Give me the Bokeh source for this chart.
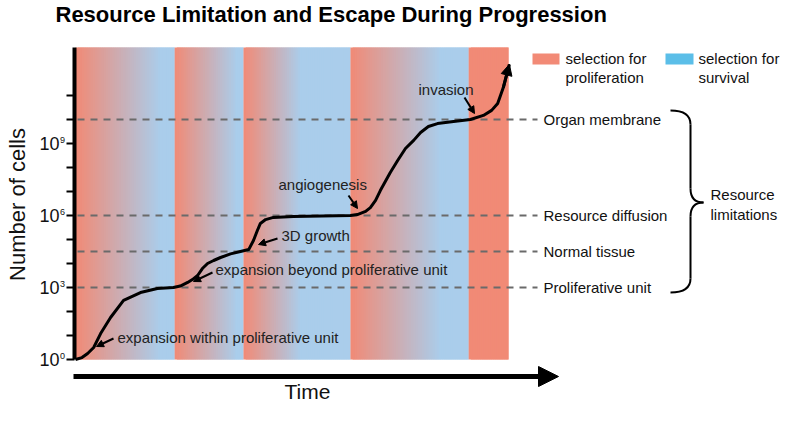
import math
from bokeh.plotting import figure
from bokeh.models import Range1d, Arrow, NormalHead
from bokeh.core.properties import value
from bokeh.embed import file_html
from bokeh.resources import INLINE

# ---------------- data (time units 0..100, values as log10 of cell count) ----------------
curve_t = [0, 1.5, 2.8, 4.2, 5.8, 8.1, 11.1, 15.0, 18.9, 22.6,
           24.2, 25.9, 27.0, 28.2, 29.3, 30.5, 31.9, 33.5, 35.8, 38.1,
           40.0, 41.1, 42.0, 42.7, 43.9, 45.7, 50.3, 63.5, 65.1, 67.0,
           68.1, 69.3, 70.4, 72.7, 74.4, 76.2, 78.1, 79.7, 81.5, 83.6,
           87.3, 91.2, 94.2, 96.1, 97.5, 98.8, 100.2]
curve_log = [0, 0.08, 0.25, 0.5, 1.08, 1.75, 2.46, 2.79, 2.96, 3.0,
             3.06, 3.21, 3.33, 3.5, 3.79, 4.0, 4.125, 4.25, 4.4, 4.5,
             4.58, 4.96, 5.375, 5.67, 5.83, 5.92, 5.96, 6.0, 6.04, 6.17,
             6.33, 6.63, 7.04, 7.79, 8.29, 8.79, 9.13, 9.46, 9.71, 9.83,
             9.92, 10.0, 10.17, 10.38, 10.67, 11.33, 12.3]

band_start = [0, 22.9, 38.8, 63.5, 90.8]
band_blue_from = [19.6, 37.2, 52.0, 84.3, None]   # None: solid proliferation band
band_end = [22.9, 38.8, 63.5, 90.8, 100]

levels = [10, 6, 4.5, 3]
level_labels = ["Organ membrane", "Resource diffusion", "Normal tissue", "Proliferative unit"]

tick_values = list(range(0, 12))
tick_label_values = [0, 3, 6, 9]
tick_label_exps = ["0", "3", "6", "9"]

annot_texts = ["expansion within proliferative unit", "expansion beyond proliferative unit",
               "3D growth", "angiogenesis", "invasion"]

legend_line1 = ["selection for", "selection for"]
legend_line2 = ["proliferation", "survival"]

title_text = "Resource Limitation and Escape During Progression"
y_label = "Number of cells"
x_label = "Time"
brace_label = ["Resource", "limitations"]

# ---------------- layout (picture pixel geometry) ----------------
W, H = 784, 405
X0, PXT = 75.0, 4.33      # picture x of t=0, pixels per time unit
Y0, PXD = 359.0, 24.0     # picture y of log=0, pixels per decade

def tx(px):
    return (px - X0) / PXT

def ly(py):
    return (Y0 - py) / PXD

RED = (241, 138, 118)
BLUE = (170, 205, 235)
LEG_RED = "#F28A76"
LEG_BLUE = "#5BBEE8"
FONT = value("Liberation Sans")

def hexcol(c):
    return "#%02x%02x%02x" % tuple(int(round(v)) for v in c)

p = figure(width=W, height=H, output_backend="svg", toolbar_location=None,
           x_axis_type=None, y_axis_type=None, min_border=0,
           x_range=Range1d(tx(0), tx(W)), y_range=Range1d(ly(H), ly(0)))
p.outline_line_color = None
p.background_fill_color = "white"
p.border_fill_color = "white"

# ---------------- background bands (overlapping gradient strips) ----------------
STEP = 0.5
lefts, rights, cols = [], [], []
for s, b, e in zip(band_start, band_blue_from, band_end):
    n = int(math.ceil((e - s) / STEP - 1e-9))
    for i in range(n):
        l = s + i * STEP
        r = min(e, l + 2 * STEP)
        if b is None:
            c = RED
        else:
            f = min(1.0, max(0.0, (l + STEP / 2 - s) / (b - s)))
            c = tuple(RED[k] + (BLUE[k] - RED[k]) * f for k in range(3))
        lefts.append(l)
        rights.append(r)
        cols.append(hexcol(c))
p.quad(left=lefts, right=rights, bottom=0, top=13, fill_color=cols, line_color=None)

# ---------------- dashed resource levels ----------------
p.segment(x0=[tx(77)] * len(levels), y0=levels, x1=[tx(537)] * len(levels), y1=levels,
          line_color="#6a6a6a", line_width=2, line_dash="7 6")
p.text(x=[tx(543)] * len(levels), y=levels, text=level_labels, text_font=FONT,
       text_font_size="15px", text_color="#111111", text_baseline="middle", text_align="left")

# ---------------- growth curve ----------------
p.line(curve_t, curve_log, line_color="black", line_width=3, line_join="round")
p.add_layout(Arrow(end=NormalHead(size=11, fill_color="black", line_color="black"),
                   x_start=curve_t[-2], y_start=curve_log[-2], x_end=curve_t[-1], y_end=curve_log[-1],
                   line_color="black", line_width=3))

# ---------------- y axis (drawn) ----------------
p.segment(x0=[tx(74)], y0=[0], x1=[tx(74)], y1=[13], line_color="black", line_width=4)
p.segment(x0=[tx(66)] * len(tick_values), y0=tick_values, x1=[tx(74)] * len(tick_values),
          y1=tick_values, line_color="black", line_width=2)
p.text(x=[tx(59)] * len(tick_label_values), y=tick_label_values, text=["10"] * len(tick_label_values),
       text_font=FONT, text_font_size="18px", text_color="#111111",
       text_align="right", text_baseline="middle")
p.text(x=[tx(59.5)] * len(tick_label_values), y=tick_label_values, text=tick_label_exps,
       text_font=FONT, text_font_size="9px", text_color="#111111",
       text_align="left", text_baseline="middle", y_offset=-4)
p.text(x=[tx(17)], y=[ly(204)], text=[y_label], angle=math.pi / 2, text_font=FONT,
       text_font_size="22px", text_color="#111111", text_align="center", text_baseline="middle")

# ---------------- time arrow ----------------
p.add_layout(Arrow(end=NormalHead(size=20, fill_color="black", line_color="black"),
                   x_start=tx(73), y_start=ly(376), x_end=tx(558), y_end=ly(376),
                   line_color="black", line_width=5))
p.text(x=[tx(307)], y=[ly(391)], text=[x_label], text_font=FONT, text_font_size="21px",
       text_color="#111111", text_align="center", text_baseline="middle")

# ---------------- title ----------------
p.text(x=[tx(55)], y=[ly(14)], text=[title_text], text_font=FONT, text_font_size="22px",
       text_font_style="bold", text_color="black", text_align="left", text_baseline="middle")

# ---------------- annotations ----------------
annot_pos = [(117, 337), (215, 269), (281, 235), (278, 184), (418, 89)]
annot_arrows = [((113, 338), (96, 346)), ((212, 272), (193, 281)), ((277, 238), (258, 244)),
                ((348, 195), (357, 208)), ((464, 97), (474, 113))]
p.text(x=[tx(a[0]) for a in annot_pos], y=[ly(a[1]) for a in annot_pos], text=annot_texts,
       text_font=FONT, text_font_size="15px", text_color="#222222",
       text_align="left", text_baseline="middle")
for (s, e) in annot_arrows:
    p.add_layout(Arrow(end=NormalHead(size=7, fill_color="black", line_color="black"),
                       x_start=tx(s[0]), y_start=ly(s[1]), x_end=tx(e[0]), y_end=ly(e[1]),
                       line_color="black", line_width=2))

# ---------------- legend ----------------
leg_left = [tx(532), tx(665)]
leg_right = [tx(559), tx(693)]
leg_text_x = [tx(565), tx(698)]
p.quad(left=leg_left, right=leg_right, bottom=ly(64), top=ly(53),
       fill_color=[LEG_RED, LEG_BLUE], line_color=None)
p.text(x=leg_text_x, y=[ly(57.5)] * 2, text=legend_line1, text_font=FONT,
       text_font_size="15px", text_color="#111111", text_align="left", text_baseline="middle")
p.text(x=leg_text_x, y=[ly(76.5)] * 2, text=legend_line2, text_font=FONT,
       text_font_size="15px", text_color="#111111", text_align="left", text_baseline="middle")

# ---------------- brace ----------------
xe, xs, xt = tx(670), tx(690), tx(703)
yt, yb, ym = ly(110), ly(292), ly(202)
r = 14 / PXD
p.quadratic(x0=[xe, xs, xt, xs], y0=[yt, ym + r, ym, yb + r],
            x1=[xs, xt, xs, xe], y1=[yt - r, ym, ym - r, yb],
            cx=[xs, xs, xs, xs], cy=[yt, ym, ym, yb], line_color="black", line_width=2)
p.segment(x0=[xs, xs], y0=[yt - r, ym - r], x1=[xs, xs], y1=[ym + r, yb + r],
          line_color="black", line_width=2)
p.text(x=[tx(710)] * 2, y=[ly(194), ly(214)], text=brace_label, text_font=FONT,
       text_font_size="15px", text_color="#111111", text_align="left", text_baseline="middle")

open("out.html", "w").write(file_html(p, INLINE))
